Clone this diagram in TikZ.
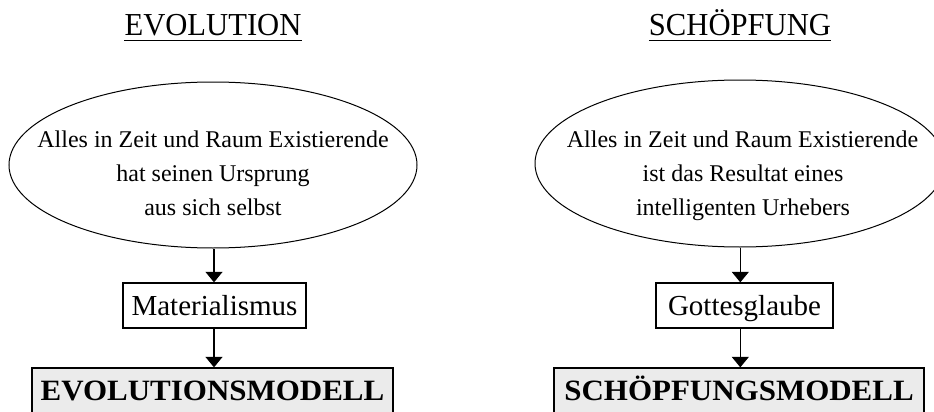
\documentclass[tikz,border=0pt]{standalone}
\usepackage{fontspec}
\usepackage{graphicx}
\setmainfont{Liberation Serif}
\usetikzlibrary{arrows.meta,shapes.geometric}
\definecolor{boxgray}{HTML}{EBEBEB}
\newcommand{\ttlsq}[1]{\scalebox{0.957}[1]{#1}}
\newcommand{\bigsq}[1]{\scalebox{1.05}[1]{#1}}
\tikzset{
  ttl/.style={inner sep=0pt, anchor=base, font=\fontsize{32}{38}\selectfont},
  ell/.style={draw, ellipse, line width=1pt, inner sep=0pt},
  etxt/.style={inner sep=0pt, anchor=base, font=\fontsize{24}{30}\selectfont},
  midbox/.style={draw, line width=1.3pt, rectangle, anchor=base, font=\fontsize{29}{34}\selectfont,
    text height=20pt, text depth=1pt, inner ysep=12pt, inner xsep=0pt},
  bigbox/.style={draw, line width=1.3pt, rectangle, fill=boxgray, anchor=base, font=\bfseries\fontsize{29.5}{36}\selectfont,
    text height=21pt, text depth=30pt, inner ysep=11pt, inner xsep=0pt},
  arr/.style={line width=1.1pt, -{Triangle[width=17pt,length=10.5pt]}}
}
\begin{document}
\begin{tikzpicture}[x=1pt,y=-1pt]
\useasboundingbox (0,0) rectangle (934,412);
\fill[white] (0,0) rectangle (934,412);
\clip (0,0) rectangle (934,412);
% titles
\node[ttl] (t1) at (213,36) {\ttlsq{EVOLUTION}};
\node[ttl] (t2) at (740,36) {\ttlsq{SCHÖPFUNG}};
\draw[line width=1.8pt] ([yshift=-4.5pt]t1.base west) -- ([yshift=-4.5pt]t1.base east);
\draw[line width=1.8pt] ([yshift=-4.5pt]t2.base west) -- ([yshift=-4.5pt]t2.base east);
% ellipses
\node[ell, minimum width=408pt, minimum height=166pt] (e1) at (213,165) {};
\node[ell, minimum width=410pt, minimum height=167pt] (e2) at (740,163.5) {};
\node[etxt] (a1) at (213,147.5) {Alles in Zeit und Raum Existierende};
\node[etxt] (a2) at (213,181.5) {hat seinen Ursprung};
\node[etxt] (a3) at (213,215.5) {aus sich selbst};
\node[etxt] (b1) at (742.5,147.5) {Alles in Zeit und Raum Existierende};
\node[etxt] (b2) at (743,181.5) {ist das Resultat eines};
\node[etxt] (b3) at (743,215.5) {intelligenten Urhebers};
% middle boxes
\node[midbox, minimum width=183pt] (m1) at (214.5,315) {Materialismus};
\node[midbox, minimum width=177pt] (m2) at (744.5,315) {Gottesglaube};
% bottom boxes
\node[bigbox, minimum width=361pt] (f1) at (212.5,400) {\bigsq{EVOLUTIONSMODELL}};
\node[bigbox, minimum width=370pt] (f2) at (739,400) {\bigsq{SCHÖPFUNGSMODELL}};
% arrows
\coordinate (x1) at (214,0);
\coordinate (x2) at (740.3,0);
\draw[arr] (e1.south -| x1) -- (m1.north -| x1);
\draw[arr] (m1.south -| x1) -- (f1.north -| x1);
\draw[arr] (e2.south -| x2) -- (m2.north -| x2);
\draw[arr] (m2.south -| x2) -- (f2.north -| x2);
\end{tikzpicture}
\end{document}
